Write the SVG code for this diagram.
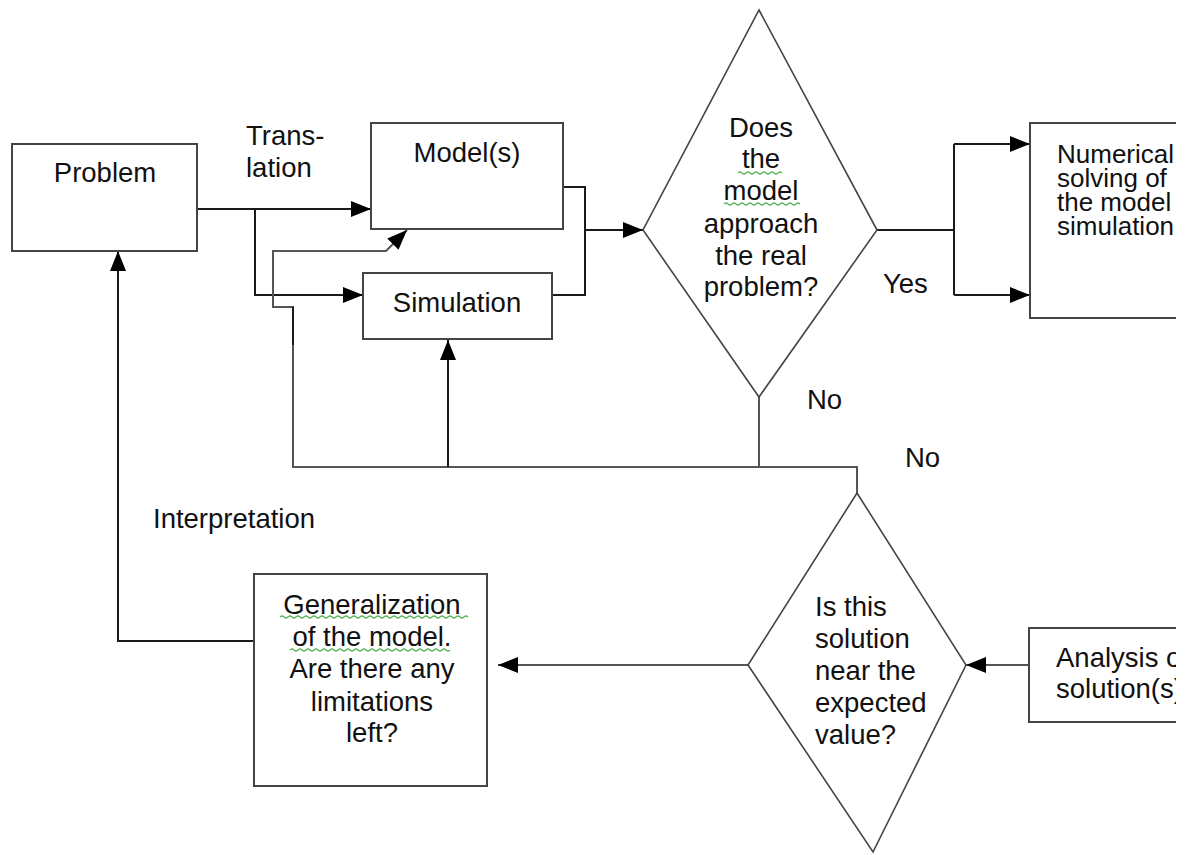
<svg xmlns="http://www.w3.org/2000/svg" width="1193" height="855" viewBox="0 0 1193 855">
<style>
  .box{fill:#fff;stroke:#444;stroke-width:2}
  .dia{fill:#fff;stroke:#444;stroke-width:1.6}
  .ln{fill:none;stroke:#1a1a1a;stroke-width:2}
  .ln2{fill:none;stroke:#555;stroke-width:2}
  .t{font-family:"Liberation Sans",Arial,sans-serif;font-size:27.5px;fill:#111}
  .s{font-size:26px}
  .c{text-anchor:middle}
  .wavy{fill:none;stroke:#5cb85c;stroke-width:1.2}
</style>
<defs>
  <marker id="ah" markerUnits="userSpaceOnUse" markerWidth="22" markerHeight="18" refX="20" refY="8" orient="auto">
    <path d="M0,0 L20,8 L0,16 z" fill="#000"/>
  </marker>
  <clipPath id="cr"><rect x="0" y="0" width="1176" height="855"/></clipPath>
</defs>
<rect width="1193" height="855" fill="#fff"/>

<g id="connectors">
  <path class="ln" d="M197,209 H371" marker-end="url(#ah)"/>
  <path class="ln" d="M255,209 V295 H363" marker-end="url(#ah)"/>
  <path class="ln" d="M563,187 H585 V295 H552"/>
  <path class="ln" d="M585,230 H643" marker-end="url(#ah)"/>
  <path class="ln" d="M877,230 H954"/>
  <path class="ln" d="M954,144 V295"/>
  <path class="ln" d="M954,144 H1030" marker-end="url(#ah)"/>
  <path class="ln" d="M954,295 H1030" marker-end="url(#ah)"/>
  <path class="ln2" d="M759,397 V467"/>
  <path class="ln2" d="M292,467 H857 V493"/>
  <path class="ln" d="M448,467 V340" marker-end="url(#ah)"/>
  <path class="ln2" d="M293,467 V307 H273 V251 H386 L407,230" marker-end="url(#ah)"/>
  <path class="ln" d="M293,345 V307"/>
  <path class="ln2" d="M1029,665 H966" marker-end="url(#ah)"/>
  <path class="ln2" d="M748,665 H498" marker-end="url(#ah)"/>
  <path class="ln" d="M254,641 H118 V251" marker-end="url(#ah)"/>
</g>

<g id="problem">
  <rect class="box" x="12" y="144" width="185" height="107"/>
  <text class="t c" x="105" y="182">Problem</text>
</g>

<g id="translation-label">
  <text class="t" x="246" y="145">Trans-</text>
  <text class="t" x="246" y="177">lation</text>
</g>

<g id="models">
  <rect class="box" x="371" y="123" width="192" height="106"/>
  <text class="t c" x="467" y="162">Model(s)</text>
</g>

<g id="simulation">
  <rect class="box" x="363" y="273" width="189" height="66"/>
  <text class="t c" x="457" y="312">Simulation</text>
</g>

<g id="decision1">
  <polygon class="dia" points="759,10 877,230 759,397 643,230"/>
  <text class="t c" x="761" y="137">Does</text>
  <text class="t c" x="761" y="168">the</text>
  <text class="t c" x="761" y="200">model</text>
  <text class="t c" x="761" y="233">approach</text>
  <text class="t c" x="761" y="265">the real</text>
  <text class="t c" x="761" y="296">problem?</text>
  <path class="wavy" d="M738,173 q2,-2 4,0 t4,0 t4,0 t4,0 t4,0 t4,0 t4,0 t4,0 t4,0 t4,0 t4,0"/>
  <path class="wavy" d="M724,204 q2,-2 4,0 t4,0 t4,0 t4,0 t4,0 t4,0 t4,0 t4,0 t4,0 t4,0 t4,0 t4,0 t4,0 t4,0 t4,0 t4,0 t4,0 t4,0 t4,0"/>
</g>

<g id="labels">
  <text class="t" x="883" y="293">Yes</text>
  <text class="t" x="807" y="409">No</text>
  <text class="t" x="905" y="467">No</text>
  <text class="t" x="153" y="528">Interpretation</text>
</g>

<g id="numerical" clip-path="url(#cr)">
  <path class="box" d="M1190,123 H1030 V318 H1190"/>
  <text class="t s" x="1057" y="163">Numerical</text>
  <text class="t s" x="1057" y="187">solving of</text>
  <text class="t s" x="1057" y="211">the model</text>
  <text class="t s" x="1057" y="235">simulation</text>
</g>

<g id="decision2">
  <polygon class="dia" points="857,493 966,665 873,852 748,665"/>
  <text class="t" x="815" y="616">Is this</text>
  <text class="t" x="815" y="648">solution</text>
  <text class="t" x="815" y="680">near the</text>
  <text class="t" x="815" y="712">expected</text>
  <text class="t" x="815" y="744">value?</text>
</g>

<g id="analysis" clip-path="url(#cr)">
  <path class="box" d="M1190,628 H1029 V722 H1190"/>
  <text class="t" x="1056" y="667">Analysis of</text>
  <text class="t" x="1056" y="698">solution(s)</text>
</g>

<g id="generalization">
  <rect class="box" x="254" y="574" width="233" height="212"/>
  <text class="t c" x="372" y="614">Generalization</text>
  <text class="t c" x="372" y="646">of the model.</text>
  <text class="t c" x="372" y="678">Are there any</text>
  <text class="t c" x="372" y="711">limitations</text>
  <text class="t c" x="372" y="742">left?</text>
  <path class="wavy" d="M280,617 q2,-2 4,0 t4,0 t4,0 t4,0 t4,0 t4,0 t4,0 t4,0 t4,0 t4,0 t4,0 t4,0 t4,0 t4,0 t4,0 t4,0 t4,0 t4,0 t4,0 t4,0 t4,0 t4,0 t4,0 t4,0 t4,0 t4,0 t4,0 t4,0 t4,0 t4,0 t4,0 t4,0 t4,0 t4,0 t4,0 t4,0 t4,0 t4,0 t4,0 t4,0 t4,0 t4,0 t4,0 t4,0 t4,0 t4,0 t4,0"/>
  <path class="wavy" d="M290,650 q2,-2 4,0 t4,0 t4,0 t4,0 t4,0 t4,0 t4,0 t4,0 t4,0 t4,0 t4,0 t4,0 t4,0 t4,0 t4,0 t4,0 t4,0 t4,0 t4,0 t4,0 t4,0 t4,0 t4,0 t4,0 t4,0 t4,0 t4,0 t4,0 t4,0 t4,0 t4,0 t4,0 t4,0 t4,0 t4,0 t4,0 t4,0 t4,0 t4,0 t4,0"/>
</g>
</svg>
